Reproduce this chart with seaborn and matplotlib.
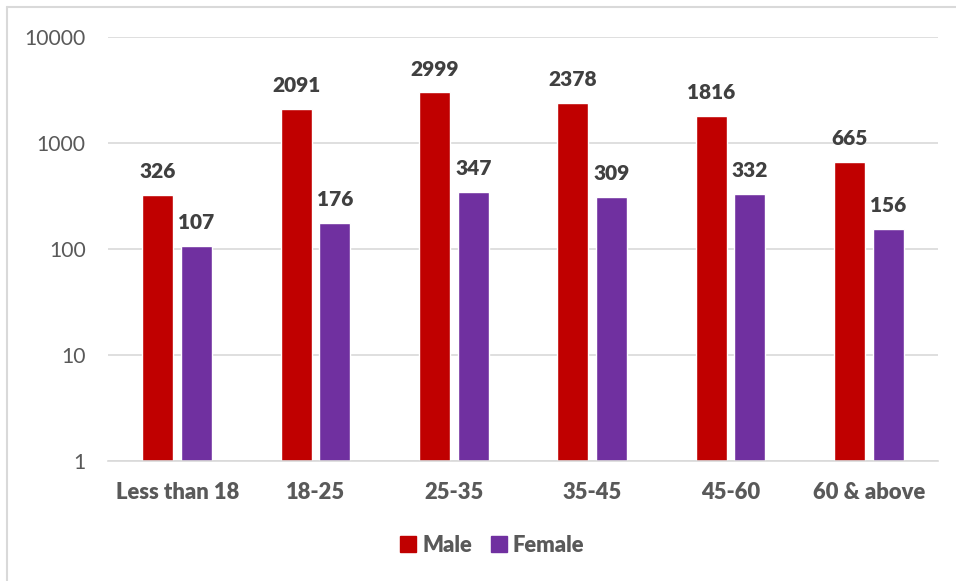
import matplotlib
matplotlib.use("Agg")
import matplotlib.pyplot as plt
import seaborn as sns
import pandas as pd
from matplotlib.lines import Line2D

categories = ["Less than 18", "18-25", "25-35", "35-45", "45-60", "60 & above"]
male = [326, 2091, 2999, 2378, 1816, 665]
female = [107, 176, 347, 309, 332, 156]
series = ["Male", "Female"]
colors = ["#C00000", "#7030A0"]

df = pd.DataFrame({
    "Age": categories * 2,
    "Value": male + female,
    "Gender": ["Male"] * len(categories) + ["Female"] * len(categories),
})

sns.set_theme(style="white")
plt.rcParams["font.family"] = ["Lato", "DejaVu Sans"]

fig = plt.figure(figsize=(9.56, 5.81), dpi=100)
ax = fig.add_axes([108 / 956, 1 - 461 / 581, (938 - 108) / 956, (461 - 37) / 581])

sns.barplot(data=df, x="Age", y="Value", hue="Gender", hue_order=series,
            palette=colors, width=0.562, gap=0.2, ax=ax, saturation=1,
            errorbar=None, legend=False)

ax.set_yscale("log")
ax.set_ylim(1, 10000)
ax.set_xlim(-0.5, len(categories) - 0.5)
ax.set_yticks([1, 10, 100, 1000, 10000])
ax.set_yticklabels(["1", "10", "100", "1000", "10000"])
ax.minorticks_off()
ax.yaxis.grid(True, color="#D9D9D9", linewidth=1.2)
ax.set_axisbelow(True)
for s in ["top", "right", "left"]:
    ax.spines[s].set_visible(False)
ax.spines["bottom"].set_color("#D9D9D9")
ax.spines["bottom"].set_linewidth(1.2)
ax.tick_params(axis="both", length=0)
ax.tick_params(axis="y", pad=16, labelsize=15.2, labelcolor="#595959")
ax.tick_params(axis="x", pad=15, labelsize=15.8, labelcolor="#595959")
for lbl in ax.get_xticklabels():
    lbl.set_fontweight("heavy")
ax.set_xlabel("")
ax.set_ylabel("")

for cont in ax.containers:
    ax.bar_label(cont, fmt="%d", padding=10, fontsize=15, fontweight="heavy",
                 color="#404040")

handles = [Line2D([0], [0], marker="s", linestyle="none", markersize=11,
                  markerfacecolor=c, markeredgecolor=c) for c in colors]
leg = fig.legend(handles, series, loc="center", bbox_to_anchor=(492 / 956, 1 - 545 / 581),
                 ncol=2, frameon=False, fontsize=15.8, handletextpad=0.25,
                 columnspacing=0.8, handlelength=0.8)
for t in leg.get_texts():
    t.set_color("#595959")
    t.set_fontweight("heavy")

# outer chart border (top and left visible)
fig.add_artist(Line2D([7 / 956, 1.0], [1 - 7 / 581, 1 - 7 / 581], color="#D9D9D9",
                      linewidth=1.5, transform=fig.transFigure))
fig.add_artist(Line2D([7 / 956, 7 / 956], [0, 1 - 7 / 581], color="#D9D9D9",
                      linewidth=1.5, transform=fig.transFigure))

fig.savefig("out.png", dpi=100, facecolor="white")
